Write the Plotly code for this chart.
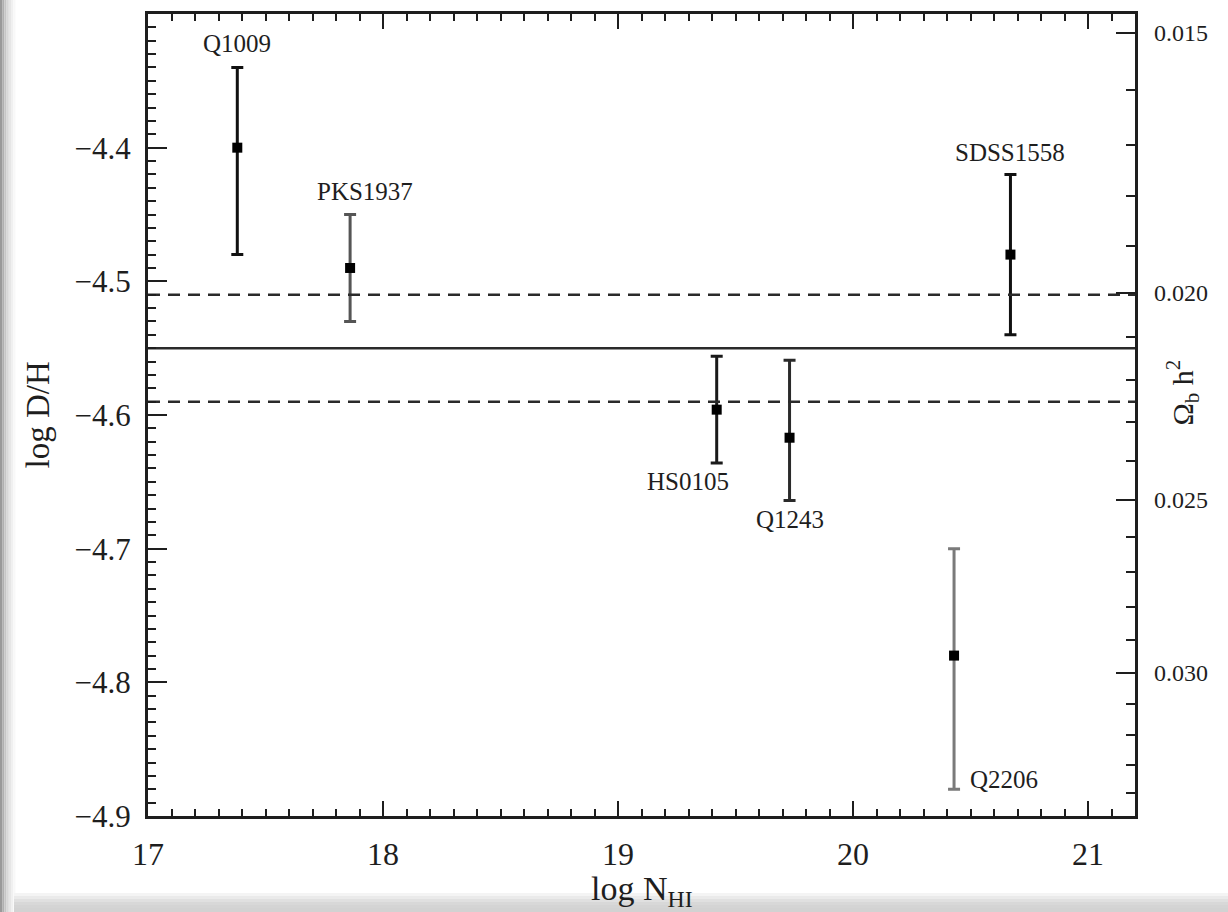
import numpy as np
import plotly.graph_objects as go

# ---- measurements: log N(HI) vs log D/H ----
names = ["Q1009", "PKS1937", "HS0105", "Q1243", "Q2206", "SDSS1558"]
log_nhi = [17.38, 17.86, 19.42, 19.73, 20.43, 20.67]
log_dh = [-4.40, -4.49, -4.596, -4.617, -4.78, -4.48]
err_plus = [0.06, 0.04, 0.04, 0.058, 0.08, 0.06]
err_minus = [0.08, 0.04, 0.04, 0.047, 0.10, 0.06]

# weighted mean and its 1-sigma band
mean_dh = -4.55
band_dh = [-4.51, -4.59]

# right-hand axis: baryon density values to mark
omega_major = [0.015, 0.020, 0.025, 0.030]
omega_minor = [0.016, 0.017, 0.018, 0.019, 0.021, 0.022, 0.023, 0.024,
               0.026, 0.027, 0.028, 0.029, 0.031, 0.032, 0.033, 0.034]

# axis extents
x_range = [17.0, 21.2]
y_range = [-4.9, -4.3]

# per-point styling (bar colour, label placement)
bar_colors = ["#111111", "#555555", "#1a1a1a", "#2a2a2a", "#7a7a7a", "#111111"]
label_style = {
    "Q1009":    dict(side="top", xanchor="center", yanchor="bottom", xshift=0, yshift=8),
    "PKS1937":  dict(side="top", xanchor="center", yanchor="bottom", xshift=15, yshift=8),
    "SDSS1558": dict(side="top", xanchor="center", yanchor="bottom", xshift=0, yshift=6),
    "HS0105":   dict(side="bottom", xanchor="center", yanchor="top", xshift=-29, yshift=-3),
    "Q1243":    dict(side="bottom", xanchor="center", yanchor="top", xshift=0, yshift=-3),
    "Q2206":    dict(side="bottom", xanchor="left", yanchor="middle", xshift=14, yshift=10),
}

FONT = "Liberation Serif"
INK = "#1e1e1e"


def omega_to_logdh(om):
    """log D/H predicted for a given Omega_b h^2 (BBN relation)."""
    L = np.log10(np.asarray(om) / 0.020)
    return -4.5084 - 1.58 * L - 0.2 * L ** 2


fig = go.Figure()

# mean value and band
fig.add_trace(go.Scatter(
    x=x_range, y=[mean_dh, mean_dh], mode="lines", yaxis="y2",
    line=dict(color="#2a2a2a", width=2.5), hoverinfo="skip", showlegend=False))
for b in band_dh:
    fig.add_trace(go.Scatter(
        x=x_range, y=[b, b], mode="lines", yaxis="y2",
        line=dict(color="#2a2a2a", width=2.5, dash="12px,8px"),
        hoverinfo="skip", showlegend=False))

# absorbers with asymmetric error bars
for i, name in enumerate(names):
    fig.add_trace(go.Scatter(
        x=[log_nhi[i]], y=[log_dh[i]], mode="markers",
        marker=dict(symbol="square", size=10, color="#000000"),
        error_y=dict(type="data", symmetric=False,
                     array=[err_plus[i]], arrayminus=[err_minus[i]],
                     color=bar_colors[i], thickness=3, width=6),
        name=name, showlegend=False))

annotations = []
for i, name in enumerate(names):
    st = label_style[name]
    if st["side"] == "top":
        yv = log_dh[i] + err_plus[i]
    else:
        yv = log_dh[i] - err_minus[i]
    annotations.append(dict(
        x=log_nhi[i], y=yv, xref="x", yref="y", text=name, showarrow=False,
        xanchor=st["xanchor"], yanchor=st["yanchor"],
        xshift=st["xshift"], yshift=st["yshift"],
        font=dict(family=FONT, size=25, color=INK)))

# axis titles
annotations.append(dict(
    x=-0.111, y=0.5, xref="paper", yref="paper", text="log D/H", textangle=-90,
    showarrow=False, xanchor="center", yanchor="middle",
    font=dict(family=FONT, size=33, color=INK)))
annotations.append(dict(
    x=0.50, y=-0.093, xref="paper", yref="paper", text="log N<sub>HI</sub>",
    showarrow=False, xanchor="center", yanchor="middle",
    font=dict(family=FONT, size=34, color=INK)))
annotations.append(dict(
    x=1.0486, y=0.528, xref="paper", yref="paper", text="Ω<sub>b</sub> h<sup>2</sup>",
    textangle=-90, showarrow=False, xanchor="center", yanchor="middle",
    font=dict(family=FONT, size=30, color=INK)))

# soft grey frame along the left and bottom edges
shapes = []
left_cols = ["#9a9a9a", "#b0b0b0", "#c6c6c6", "#d8d8d8", "#e6e6e6", "#f0f0f0", "#f8f8f8"]
px_w = 987.0
px_h = 802.0
for k, c in enumerate(left_cols):
    x0 = (0 + 2.2 * k - 148) / px_w
    x1 = (2.2 * (k + 1) - 148) / px_w
    shapes.append(dict(type="rect", xref="paper", yref="paper", x0=x0, x1=x1,
                       y0=(816 - 912) / px_h, y1=(816 + 0) / px_h + 0.02,
                       fillcolor=c, line=dict(width=0), layer="below"))
bottom_cols = ["#f4f4f4", "#eaeaea", "#e0e0e0", "#d8d8d8", "#d4d4d4", "#d2d2d2"]
for k, c in enumerate(bottom_cols):
    ytop = 893 + 3 * k
    ybot = 912 if k == len(bottom_cols) - 1 else 893 + 3 * (k + 1)
    shapes.append(dict(type="rect", xref="paper", yref="paper",
                       x0=(14 - 148) / px_w, x1=(1228 - 148) / px_w,
                       y0=(816 - ybot) / px_h, y1=(816 - ytop) / px_h,
                       fillcolor=c, line=dict(width=0), layer="below"))

fig.update_layout(
    width=1228, height=912, autosize=False,
    margin=dict(l=148, r=93, t=14, b=96),
    paper_bgcolor="white", plot_bgcolor="white",
    font=dict(family=FONT, color=INK),
    showlegend=False,
    xaxis=dict(
        range=x_range, tickvals=[17, 18, 19, 20, 21],
        ticks="inside", ticklen=15, tickwidth=2, tickcolor=INK,
        minor=dict(dtick=0.1, tick0=17, ticks="inside", ticklen=7, tickwidth=2, tickcolor=INK),
        showline=True, linewidth=3, linecolor=INK, mirror="ticks",
        showgrid=False, zeroline=False,
        tickfont=dict(family=FONT, size=32, color=INK), ticklabelstandoff=8),
    yaxis=dict(
        range=y_range, tickvals=[-4.9, -4.8, -4.7, -4.6, -4.5, -4.4],
        tickformat=".1f",
        ticks="inside", ticklen=19, tickwidth=2, tickcolor=INK,
        minor=dict(dtick=0.01, tick0=-4.9, ticks="inside", ticklen=8, tickwidth=2, tickcolor=INK),
        showline=True, linewidth=3, linecolor=INK, mirror=True,
        showgrid=False, zeroline=False,
        tickfont=dict(family=FONT, size=31, color=INK), ticklabelstandoff=8),
    yaxis2=dict(
        overlaying="y", side="right", range=y_range,
        tickmode="array", tickvals=list(omega_to_logdh(omega_major)),
        ticktext=[f"{v:.3f}" for v in omega_major],
        ticks="inside", ticklen=19, tickwidth=2, tickcolor=INK,
        minor=dict(tickmode="array", tickvals=list(omega_to_logdh(omega_minor)),
                   ticks="inside", ticklen=9, tickwidth=2, tickcolor=INK),
        showline=False, showgrid=False, zeroline=False,
        tickfont=dict(family=FONT, size=24, color=INK), ticklabelstandoff=18),
    annotations=annotations,
    shapes=shapes,
)

fig.write_html("out.html")
